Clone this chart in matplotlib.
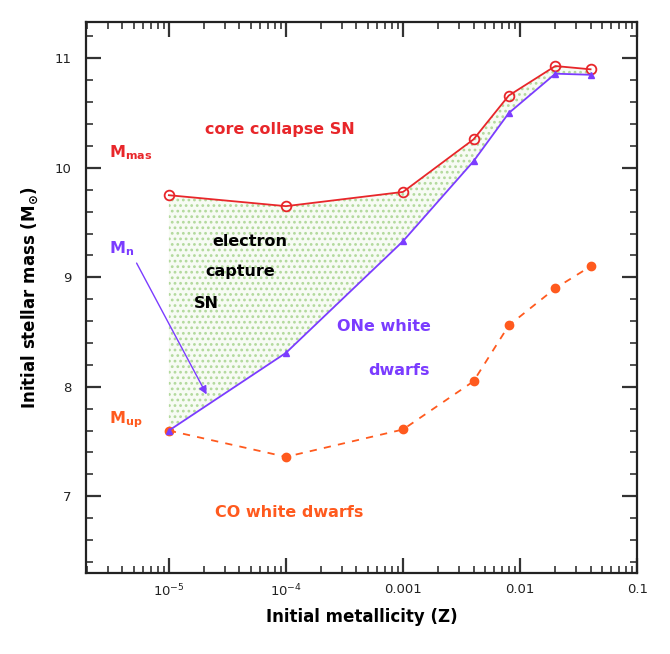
import matplotlib
matplotlib.use("Agg")
import matplotlib.pyplot as plt
from matplotlib.ticker import FixedLocator, FixedFormatter, MultipleLocator, LogLocator, NullFormatter

# ---- data ----
metallicity = [1e-5, 1e-4, 1e-3, 0.004, 0.008, 0.02, 0.04]
m_mas = [9.75, 9.65, 9.78, 10.26, 10.66, 10.93, 10.90]
m_n = [7.60, 8.31, 9.33, 10.06, 10.50, 10.86, 10.85]
m_up = [7.60, 7.36, 7.61, 8.05, 8.56, 8.90, 9.10]
x_tick_values = [1e-5, 1e-4, 1e-3, 1e-2, 1e-1]
x_tick_labels = ["10$^{-5}$", "10$^{-4}$", "0.001", "0.01", "0.1"]
y_tick_values = [7, 8, 9, 10, 11]
y_tick_labels = ["7", "8", "9", "10", "11"]

RED = "#e8262a"
BLUE = "#7b3cff"
ORANGE = "#ff5a1e"
GREEN = "#b2d99c"

plt.rcParams['font.family'] = ['DejaVu Sans']
plt.rcParams['hatch.linewidth'] = 1.2
plt.rcParams['hatch.color'] = GREEN

fig = plt.figure(figsize=(6.7, 6.54), dpi=100)
ax = fig.add_axes([0.128, 0.124, 0.823, 0.842])
ax.set_xscale('log')
ax.set_xlim(1.95e-6, 0.1)
ax.set_ylim(6.3, 11.33)

# shaded electron-capture region
ax.fill_between(metallicity, m_n, m_mas, facecolor='#f7fbf4', hatch='...',
                edgecolor=GREEN, linewidth=0, zorder=1)

ax.plot(metallicity, m_mas, color=RED, lw=1.3, marker='o', ms=7,
        mfc='none', mec=RED, mew=1.3, zorder=3)
ax.plot(metallicity, m_n, color=BLUE, lw=1.3, marker='^', ms=5,
        mfc=BLUE, mec=BLUE, zorder=4)
ax.plot(metallicity, m_up, color=ORANGE, lw=1.3, ls=(0, (4, 4)), marker='o', ms=6,
        mfc=ORANGE, mec=ORANGE, zorder=3)

# arrow from M_n label
ax.annotate("", xy=(2.1e-5, 7.93), xytext=(5.3e-6, 9.13),
            arrowprops=dict(arrowstyle='-|>', color=BLUE, lw=1.0,
                            mutation_scale=12, shrinkA=0, shrinkB=0), zorder=5)

fs = 11.5
ax.text(8.9e-5, 10.35, "core collapse SN", color=RED, fontsize=fs, fontweight='bold',
        ha='center', va='center')
ax.text(3.1e-6, 10.14, r"$\mathbf{M_{mas}}$", color=RED, fontsize=fs, ha='left', va='center')
ax.text(4.9e-5, 9.33, "electron", color='black', fontsize=fs, fontweight='bold', ha='center', va='center')
ax.text(4.1e-5, 9.05, "capture", color='black', fontsize=fs, fontweight='bold', ha='center', va='center')
ax.text(2.1e-5, 8.76, "SN", color='black', fontsize=fs, fontweight='bold', ha='center', va='center')
ax.text(3.1e-6, 9.26, r"$\mathbf{M_{n}}$", color=BLUE, fontsize=fs, ha='left', va='center')
ax.text(6.9e-4, 8.55, "ONe white", color=BLUE, fontsize=fs, fontweight='bold', ha='center', va='center')
ax.text(9.3e-4, 8.15, "dwarfs", color=BLUE, fontsize=fs, fontweight='bold', ha='center', va='center')
ax.text(3.1e-6, 7.7, r"$\mathbf{M_{up}}$", color=ORANGE, fontsize=fs, ha='left', va='center')
ax.text(1.07e-4, 6.85, "CO white dwarfs", color=ORANGE, fontsize=fs, fontweight='bold',
        ha='center', va='center')

# ticks
ax.xaxis.set_major_locator(FixedLocator(x_tick_values))
ax.xaxis.set_major_formatter(FixedFormatter(x_tick_labels))
ax.xaxis.set_minor_locator(LogLocator(base=10, subs=range(2, 10), numticks=20))
ax.xaxis.set_minor_formatter(NullFormatter())
ax.yaxis.set_major_locator(FixedLocator(y_tick_values))
ax.yaxis.set_major_formatter(FixedFormatter(y_tick_labels))
ax.yaxis.set_minor_locator(MultipleLocator(0.2))
ax.tick_params(which='both', direction='in', top=True, right=True, colors='#333333',
               labelsize=9.5, labelcolor='#222222')
ax.tick_params(which='major', length=11, width=1.6)
ax.tick_params(which='minor', length=5, width=1.2)
ax.tick_params(axis='x', pad=7)
ax.tick_params(axis='y', pad=10)
for s in ax.spines.values():
    s.set_linewidth(1.6)
    s.set_color('#222222')

ax.set_xlabel("Initial metallicity (Z)", fontsize=12, fontweight='bold', labelpad=6)
ax.set_ylabel(r"Initial stellar mass (M$_\mathbf{\odot}$)", fontsize=12, fontweight='bold', labelpad=10)

fig.savefig("out.png", dpi=100)
